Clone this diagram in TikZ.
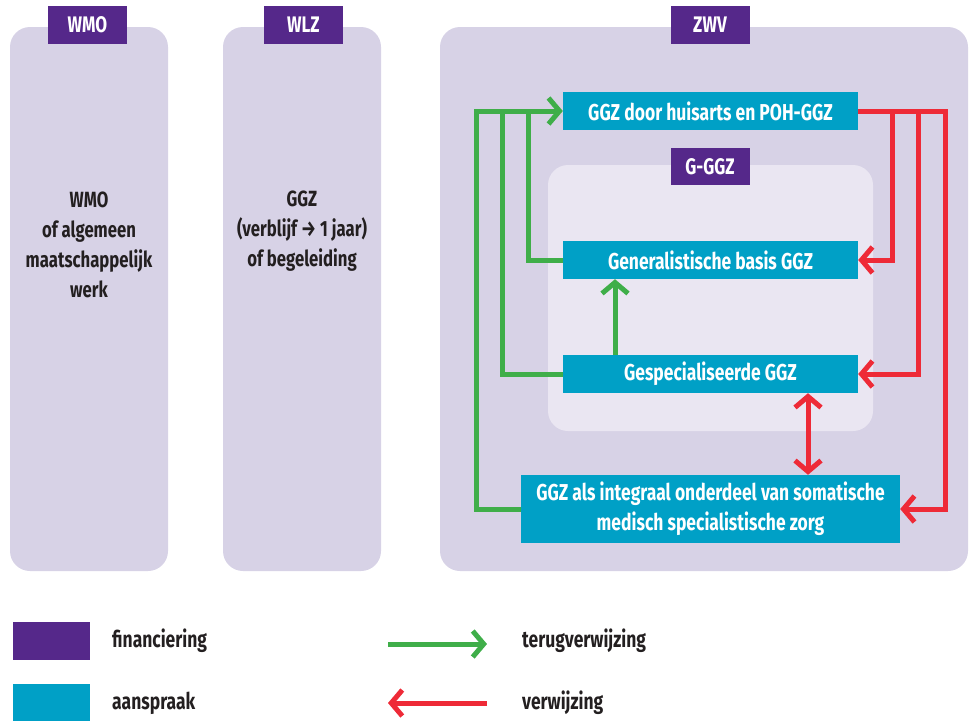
\documentclass[tikz,border=0pt]{standalone}
\usepackage{fontspec}
\setmainfont{Fira Sans}[FakeStretch=0.76]
\usetikzlibrary{arrows.meta}
\definecolor{panelc}{HTML}{D7D2E6}
\definecolor{innerc}{HTML}{EAE6F2}
\definecolor{purplec}{HTML}{55288A}
\definecolor{cyanc}{HTML}{00A0C6}
\definecolor{greenc}{HTML}{3FAE49}
\definecolor{redc}{HTML}{EE2A37}
\definecolor{textc}{HTML}{231F20}
\begin{document}
\begin{tikzpicture}[x=1pt,y=-1pt,
  panel/.style={fill=panelc, rounded corners=20pt},
  inner/.style={fill=innerc, rounded corners=20pt},
  tab/.style={fill=purplec, text=white, inner sep=0pt, minimum width=79pt, minimum height=38pt,
    font=\bfseries\fontsize{22.5}{24}\selectfont},
  paneltext/.style={text=textc, align=center, inner sep=0pt, font=\bfseries\fontsize{22}{30}\selectfont},
  box/.style={fill=cyanc, text=white, align=center, inner sep=0pt, minimum height=38pt,
    font=\bfseries\fontsize{23}{30}\selectfont},
  legsq/.style={inner sep=0pt, minimum width=77pt, minimum height=38pt},
  legtext/.style={text=textc, anchor=west, inner sep=0pt, font=\bfseries\fontsize{23}{30}\selectfont},
  tip/.tip={Straight Barb[length=11pt, width=26pt]},
  grn/.style={draw=greenc, line width=5pt, line join=miter},
  rd/.style={draw=redc, line width=5pt, line join=miter},
]
\useasboundingbox (0,0) rectangle (969,721);
% panels
\fill[panel] (10,27) rectangle (168,571);
\fill[panel] (223,27) rectangle (381,571);
\fill[panel] (440,27) rectangle (968,571);
\fill[inner] (548,165) rectangle (873,431);
% tabs
\node[tab] (wmotab) at (87.5,25) {WMO};
\node[tab] (wlztab) at (303.5,25) {WLZ};
\node[tab] (zwvtab) at (710,25) {ZWV};
\node[tab, minimum height=37pt] (ggztab) at (710,166.5) {G-GGZ};
% panel texts
\node[paneltext] (wmotext) at (89,245) {WMO\\of algemeen\\maatschappelijk\\werk};
\node[paneltext] (wlztext) at (302,231) {GGZ\\(verblijf → 1 jaar)\\of begeleiding};
% boxes
\node[box, minimum width=295pt] (b1) at (710.5,111) {GGZ door huisarts en POH-GGZ};
\node[box, minimum width=295pt] (b2) at (710.5,260) {Generalistische basis GGZ};
\node[box, minimum width=295pt] (b3) at (710.5,374) {Gespecialiseerde GGZ};
\node[box, minimum width=379pt, minimum height=68pt] (b4) at (710.5,509) {GGZ als integraal onderdeel van somatische\\medisch specialistische zorg};
% green connectors
\draw[grn] (b3.west) -| ([xshift=-60pt]b1.west);
\draw[grn] (b2.west) -| ([xshift=-34pt]b1.west);
\draw[grn, -{tip}] (b4.west) -| ([xshift=-86pt]b1.west) -- (b1.west);
\draw[grn, -{tip}] ([xshift=-95.5pt]b3.north) -- ([xshift=-95.5pt]b2.south);
% red connectors
\draw[rd, -{tip}] (b1.east) -| ([xshift=34pt]b2.east) -- (b2.east);
\draw[rd, -{tip}] (b1.east) -| ([xshift=60pt]b3.east) -- (b3.east);
\draw[rd, -{tip}] (b1.east) -| ([xshift=45pt]b4.east) -- (b4.east);
\draw[rd, {tip}-{tip}] ([xshift=97.5pt]b3.south) -- ([xshift=97.5pt]b4.north);
% legend
\node[legsq, fill=purplec] (lfin) at (51.5,641) {};
\node[legsq, fill=cyanc, minimum height=37pt] (lasp) at (51.5,702.5) {};
\node[legtext] (tfin) at (112,641) {financiering};
\node[legtext] (tasp) at (112,703) {aanspraak};
\coordinate (ga) at (388,644);
\coordinate (gb) at (487,644);
\coordinate (ra) at (487,703);
\coordinate (rb) at (388,703);
\draw[grn, -{tip}] (ga) -- (gb);
\draw[rd, -{tip}] (ra) -- (rb);
\node[legtext] (tterug) at (522,641) {terugverwijzing};
\node[legtext] (tverw) at (522,703) {verwijzing};
\end{tikzpicture}
\end{document}
